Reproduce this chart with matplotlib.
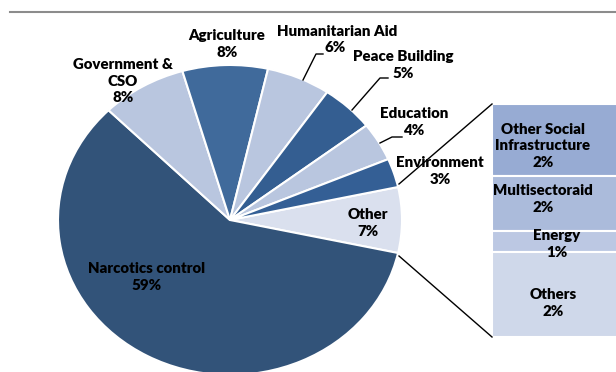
import numpy as np
import matplotlib
matplotlib.use('Agg')
from matplotlib import pyplot as plt

plt.rcParams['font.family'] = ['Lato', 'DejaVu Sans']

# breakdown of the "Other" slice (shown in the bar)
bar_labels = ['Other Social\nInfrastructure', 'Multisectoraid', 'Energy', 'Others']
bar_values = [2.1, 1.62, 0.62, 2.48]
bar_colors = ['#97abd3', '#abbbdb', '#bcc8e3', '#cfd8ea']

# pie slices, clockwise starting from "Other"
pie_labels = ['Other', 'Narcotics control', 'Government &\nCSO', 'Agriculture',
              'Humanitarian Aid', 'Peace Building', 'Education', 'Environment']
pie_values = [sum(bar_values), 59, 8, 8, 6, 5, 4, 3]
pie_colors = ['#dae0ee', '#325379', '#b9c6df', '#406a9b',
              '#b9c6df', '#345e91', '#b9c6df', '#345f95']

W, H = 616, 372
fig = plt.figure(figsize=(W / 100, H / 100), dpi=100)

# pie axes, a bit wider than tall so the pie comes out slightly oval
cx, cy, rx, ry, m = 230, 220, 172, 155, 1.3
ax = fig.add_axes([(cx - m * rx) / W, (H - cy - m * ry) / H,
                   2 * m * rx / W, 2 * m * ry / H])
total = sum(pie_values)
other_angle = pie_values[0] / total * 360
ax.pie(pie_values, colors=pie_colors, startangle=other_angle / 2, counterclock=False,
       wedgeprops=dict(edgecolor='white', linewidth=1.5))
ax.set_aspect('auto')
ax.set_xlim(-m, m)
ax.set_ylim(-m, m)

# bar for the split-out slice
bax = fig.add_axes([492 / W, (H - 337) / H, 140 / W, 233 / H])
bottom = 0
for v, c in zip(bar_values, bar_colors):
    bax.bar(0, v, bottom=bottom, width=1, color=c, edgecolor='white', linewidth=1.5)
    bottom += v
bax.set_xlim(-0.5, 0.5)
bax.set_ylim(sum(bar_values), 0)
bax.axis('off')

# overlay in pixel coordinates for labels and lines
ov = fig.add_axes([0, 0, 1, 1], zorder=5)
ov.set_xlim(0, W)
ov.set_ylim(H, 0)
ov.axis('off')
ov.patch.set_alpha(0)

fs = 10.8
ls = 1.3
fw = 'heavy'

def pct(v, tot):
    return '%d%%' % int(v / tot * 100 + 0.5)

pie_pos = [(368, 223), (147, 277), (123, 81), (227, 44),
           (337, 39), (403, 65), (414, 122), (440, 171)]
for lab, v, (x, y) in zip(pie_labels, pie_values, pie_pos):
    if lab == 'Humanitarian Aid':
        ov.text(x, 31, lab, ha='center', va='center', fontsize=fs, fontweight=fw)
        ov.text(335, 47, pct(v, total), ha='center', va='center', fontsize=fs, fontweight=fw)
        continue
    ov.text(x, y, lab + '\n' + pct(v, total), ha='center', va='center',
            fontsize=fs, fontweight=fw, linespacing=ls)

# leader lines
ov.plot([303, 316, 323], [80, 54, 54], color='black', lw=1)
ov.plot([352, 380, 388], [110, 78, 78], color='black', lw=1)
ov.plot([380, 392, 402], [143, 137, 137], color='black', lw=1)

# connectors from the "Other" slice to the bar
ov.plot([399, 492], [184, 104], color='black', lw=1)
ov.plot([399, 492], [256, 337], color='black', lw=1)

bar_pos = [(543, 146), (543, 199), (557, 244), (553, 303)]
for lab, v, (x, y) in zip(bar_labels, bar_values, bar_pos):
    ov.text(x, y, lab + '\n' + pct(v, total), ha='center', va='center',
            fontsize=fs, fontweight=fw, linespacing=ls)

# rule under the title
ov.plot([10, W], [12, 12], color='#8c8c8c', lw=1.5)

fig.savefig('out.png', dpi=100)
